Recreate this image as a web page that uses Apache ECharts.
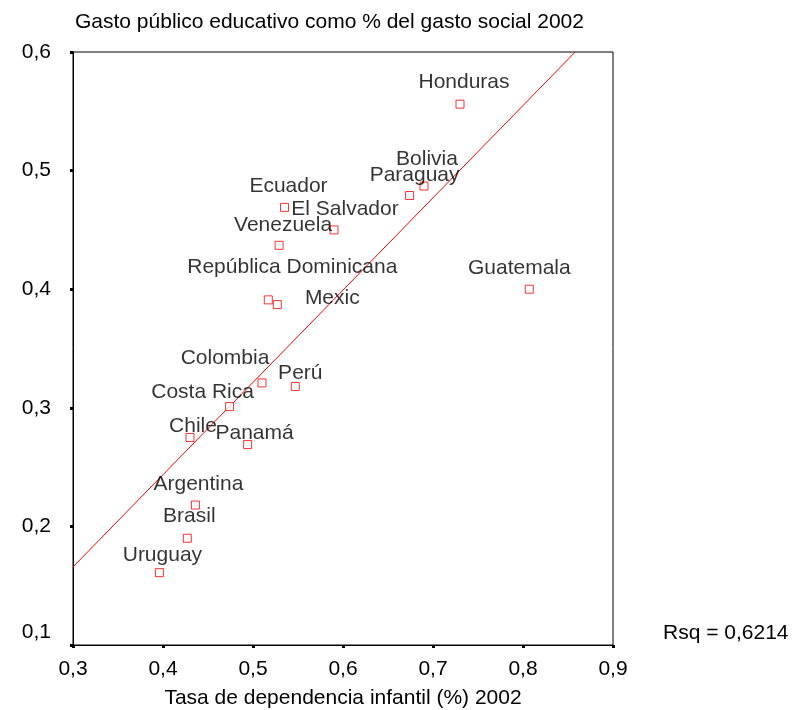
<!DOCTYPE html>
<html><head><meta charset="utf-8">
<script src="https://cdn.jsdelivr.net/npm/echarts@6/dist/echarts.min.js"></script>
<style>html,body{margin:0;padding:0;background:#fff}#c{width:792px;height:710px}</style>
</head><body><div id="c"></div>
<script>
var countries = ["Honduras","Bolivia","Paraguay","Guatemala","Ecuador","El Salvador","Venezuela","República Dominicana","Mexic","Colombia","Perú","Costa Rica","Chile","Panamá","Argentina","Brasil","Uruguay"];
var dependencia = [0.730,0.690,0.674,0.807,0.535,0.590,0.529,0.517,0.527,0.510,0.547,0.474,0.430,0.494,0.436,0.427,0.396];
var gastoEduc = [0.556,0.487,0.479,0.400,0.469,0.450,0.437,0.391,0.387,0.321,0.318,0.301,0.275,0.269,0.218,0.190,0.161];
var fitLine = [[0.3,0.1658],[0.858,0.6]];
var xTicks = [0.3,0.4,0.5,0.6,0.7,0.8,0.9];
var yTicks = [0.1,0.2,0.3,0.4,0.5,0.6];
var rsqText = "Rsq = 0,6214";
var yTitle = "Gasto público educativo como % del gasto social 2002";
var xTitle = "Tasa de dependencia infantil (%) 2002";

// label placement (style, not data)
var labelOffsets = [[4,-22],[3,-27],[5,-20],[-10,-21],[4,-21],[11,-21],[4,-20],[24,-33],[55,-6],[-37,-25],[5,-13],[-27,-14],[3,-11],[7,-11],[3,-21],[2,-22],[3,-17]];

var FONT = 'Arial, "Liberation Sans", sans-serif';
var FS = 21;
function fmt(v){ return (Math.round(v*10)/10).toFixed(1).replace('.',','); }

var pts = countries.map(function(n,i){
  return {name:n, value:[dependencia[i], gastoEduc[i]],
    label:{show:true, position:'inside', offset:labelOffsets[i], formatter:n}};
});

var chart = echarts.init(document.getElementById('c'));
chart.setOption({
  animation:false,
  backgroundColor:'#fff',
  textStyle:{fontFamily:FONT},
  grid:{left:73, right:179, top:52, bottom:65, show:true, borderColor:'#000', borderWidth:1, backgroundColor:'transparent', outerBoundsMode:'none', containLabel:false},
  xAxis:{type:'value', min:xTicks[0], max:xTicks[xTicks.length-1], interval:0.1,
    name:xTitle, nameLocation:'middle', nameGap:43,
    nameTextStyle:{fontSize:FS, color:'#000', fontFamily:FONT},
    axisLine:{show:true, lineStyle:{color:'#000', width:1}},
    axisTick:{show:true, length:3, lineStyle:{color:'#000', width:3}},
    axisLabel:{fontSize:FS, color:'#000', margin:14, fontFamily:FONT, formatter:fmt},
    splitLine:{show:false}},
  yAxis:{type:'value', min:yTicks[0], max:yTicks[yTicks.length-1], interval:0.1,
    name:yTitle, nameLocation:'end', nameGap:19,
    nameTextStyle:{fontSize:FS, color:'#000', align:'left', fontFamily:FONT, padding:[0,0,0,2]},
    axisLine:{show:true, lineStyle:{color:'#000', width:1}},
    axisTick:{show:true, length:3, lineStyle:{color:'#000', width:3}},
    axisLabel:{fontSize:FS, color:'#000', margin:22, fontFamily:FONT,
      formatter:function(v){ var s=fmt(v); return Math.abs(v-0.1)<1e-6 ? '{lo|'+s+'}' : s; },
      rich:{lo:{fontSize:FS, color:'#000', fontFamily:FONT, padding:[0,0,26,0]}}},
    splitLine:{show:false}},
  graphic:[{type:'text', left:663, top:623, style:{text:rsqText, fontSize:FS, fill:'#000', fontFamily:FONT}}],
  series:[
    {type:'line', data:fitLine, showSymbol:false, symbol:'none', lineStyle:{color:'#ff0000', width:1}, silent:true, z:1},
    {type:'scatter', data:pts, symbol:'rect', symbolSize:8,
      itemStyle:{color:'#fff', borderColor:'#ff0000', borderWidth:1},
      label:{fontSize:FS, color:'#000', fontFamily:FONT}, z:3}
  ]
});
</script></body></html>
